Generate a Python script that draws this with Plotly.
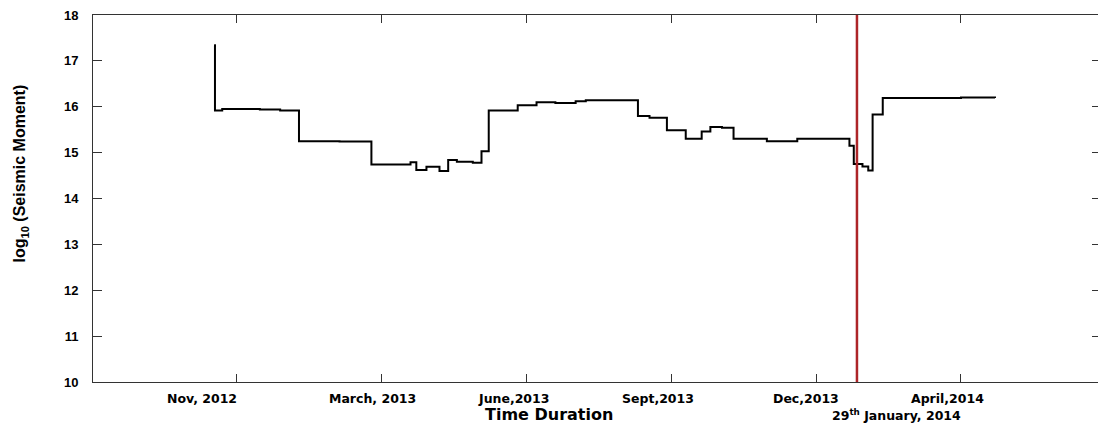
import plotly.graph_objects as go

# ---- data (x in "tick units": Nov 2012 = 1, March 2013 = 2, ... April 2014 = 6) ----
time_x = [0.844, 0.850, 0.90, 1.16, 1.30, 1.43, 1.71, 1.93, 2.20, 2.24, 2.31, 2.40,
          2.46, 2.52, 2.63, 2.69, 2.74, 2.94, 3.07, 3.20, 3.34, 3.41, 3.77, 3.85,
          3.97, 4.10, 4.21, 4.27, 4.35, 4.43, 4.66, 4.87, 5.23, 5.26, 5.32, 5.36,
          5.39, 5.46, 6.00, 6.235]
log_moment = [17.34, 15.92, 15.95, 15.94, 15.92, 15.25, 15.24, 14.74, 14.79, 14.62, 14.69, 14.60,
              14.84, 14.80, 14.78, 15.03, 15.92, 16.03, 16.10, 16.08, 16.12, 16.14, 15.80, 15.76,
              15.49, 15.30, 15.46, 15.56, 15.54, 15.30, 15.25, 15.30, 15.15, 14.75, 14.70, 14.61,
              15.83, 16.19, 16.20, 16.19]

tick_pos = [1, 2, 3, 4, 5, 6]
tick_labels = ["Nov, 2012", "March, 2013", "June,2013", "Sept,2013", "Dec,2013", "April,2014"]
y_ticks = [10, 11, 12, 13, 14, 15, 16, 17, 18]
event_x = 5.282
event_label = "29<sup>th</sup> January, 2014"

# ---- styling ----
label_shift = [-35, -9, -13, -13, -10, -13]
axis_col = "#333333"
bold_x_font = dict(family="DejaVu Sans", size=12.5, color="black", weight="bold")

fig = go.Figure()
fig.add_trace(go.Scatter(x=time_x, y=log_moment, mode="lines",
                         line=dict(color="black", width=2, shape="hv"),
                         showlegend=False, hoverinfo="skip"))
# invisible trace to activate the right-side tick axis
fig.add_trace(go.Scatter(x=[time_x[0]], y=[log_moment[0]], yaxis="y2", mode="markers",
                         marker=dict(opacity=0), showlegend=False, hoverinfo="skip"))

fig.add_shape(type="line", xref="x", yref="paper", x0=event_x, x1=event_x, y0=0, y1=1,
              line=dict(color="#ad2528", width=2.5), layer="above")

annotations = []
for tp, tl, sh in zip(tick_pos, tick_labels, label_shift):
    annotations.append(dict(x=tp, y=0, xref="x", yref="paper", text=tl, showarrow=False,
                            xanchor="center", yanchor="middle", xshift=sh, yshift=-16,
                            font=bold_x_font))
annotations.append(dict(x=event_x, y=0, xref="x", yref="paper", text=event_label, showarrow=False,
                        xanchor="center", yanchor="middle", xshift=40, yshift=-33,
                        font=bold_x_font))
annotations.append(dict(x=0.5, y=0, xref="paper", yref="paper", text="Time Duration",
                        showarrow=False, xanchor="center", yanchor="middle",
                        xshift=-47, yshift=-32,
                        font=dict(family="DejaVu Sans", size=16, color="black", weight="bold")))
annotations.append(dict(x=0, y=0.568, xref="paper", yref="paper",
                        text="log<sub>10</sub> (Seismic Moment)", showarrow=False,
                        textangle=-90, xanchor="center", yanchor="middle", xshift=-72,
                        font=dict(family="Liberation Sans", size=16, color="black", weight="bold")))

fig.update_layout(
    width=1098, height=423,
    margin=dict(l=93, r=0, t=15, b=41),
    paper_bgcolor="white", plot_bgcolor="white",
    xaxis=dict(range=[0.008, 6.946], tickvals=tick_pos, ticks="inside", ticklen=8,
               tickcolor=axis_col, showline=True, linecolor=axis_col, linewidth=1,
               mirror="ticks", showticklabels=False, showgrid=False, zeroline=False,
               automargin=False),
    yaxis=dict(range=[10, 18], tickvals=y_ticks, ticks="inside", ticklen=9,
               tickcolor=axis_col, showline=True, linecolor=axis_col, linewidth=1,
               showgrid=False, zeroline=False, ticklabelstandoff=11, automargin=False,
               ticklabeloverflow="allow",
               tickfont=dict(family="Liberation Sans", size=13, color="black", weight="bold")),
    yaxis2=dict(range=[10, 18], tickvals=y_ticks, overlaying="y", side="right",
                ticks="inside", ticklen=6, tickcolor=axis_col, showticklabels=False,
                showline=False, showgrid=False, zeroline=False, automargin=False),
    annotations=annotations,
)

# remove the browser's default page margin so the figure fills the window exactly
fig.write_html("out.html", config={"displayModeBar": False},
               post_script="document.body.style.margin='0';document.body.style.overflow='hidden';")
